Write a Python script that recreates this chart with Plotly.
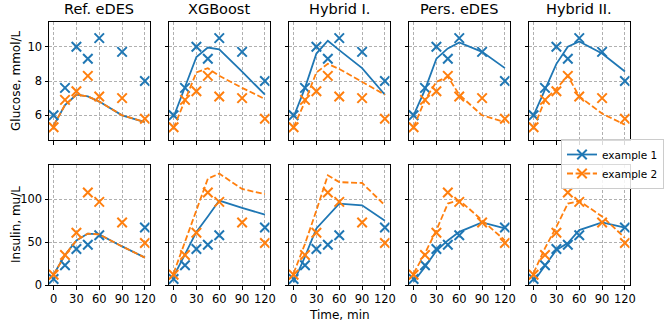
import plotly.graph_objects as go

# ---------------- data ----------------
titles = ["Ref. eDES", "XGBoost", "Hybrid I.", "Pers. eDES", "Hybrid II."]
times = [0, 15, 30, 45, 60, 90, 120]
ins_obs_times_ex1 = [0, 15, 30, 45, 60, 120]

glucose_obs_ex1 = [6.0, 7.6, 10.0, 9.3, 10.5, 9.7, 8.0]
glucose_obs_ex2 = [5.3, 6.9, 7.4, 8.3, 7.1, 7.0, 5.8]
insulin_obs_ex1 = [7, 23, 42, 47, 58, 67]
insulin_obs_ex2 = [12, 35, 61, 108, 97, 73, 49]

glucose_ref_ex1 = [5.4, 6.6, 7.2, 7.1, 6.8, 6.0, 5.6]
glucose_ref_ex2 = [5.4, 6.6, 7.2, 7.1, 6.8, 6.0, 5.6]
glucose_xgb_ex1 = [5.9, 7.6, 9.4, 9.95, 9.85, 8.55, 7.2]
glucose_xgb_ex2 = [5.25, 6.9, 8.5, 8.75, 8.3, 7.6, 6.95]
glucose_hyb1_ex1 = [5.9, 7.6, 9.6, 10.35, 9.8, 8.75, 7.2]
glucose_hyb1_ex2 = [5.3, 6.8, 8.5, 9.0, 8.7, 7.95, 7.2]
glucose_pers_ex1 = [6.0, 7.5, 9.3, 9.9, 10.25, 9.7, 8.75]
glucose_pers_ex2 = [5.3, 6.9, 7.95, 8.25, 7.2, 6.0, 5.6]
glucose_hyb2_ex1 = [6.0, 7.55, 9.0, 10.0, 10.3, 9.6, 8.55]
glucose_hyb2_ex2 = [5.25, 6.9, 7.55, 8.3, 7.1, 6.1, 5.45]

insulin_ref_ex1 = [12, 35, 52, 60, 59, 45, 32]
insulin_ref_ex2 = [12, 35, 52, 60, 59, 45, 32]
insulin_xgb_ex1 = [9.7, 36, 62, 80, 98.5, 90, 82]
insulin_xgb_ex2 = [13.6, 50, 88, 124, 130, 112, 106]
insulin_hyb1_ex1 = [3, 33, 66, 81, 95, 93, 75]
insulin_hyb1_ex2 = [13.6, 48, 87, 128, 120, 119, 93]
insulin_pers_ex1 = [4, 21, 40, 52, 62, 73, 66]
insulin_pers_ex2 = [13.6, 37, 64, 95, 99, 76, 52]
insulin_hyb2_ex1 = [4, 23, 41, 49, 64, 73, 67]
insulin_hyb2_ex2 = [14, 43, 68, 95, 98, 80, 55]

glucose_models = [
    (glucose_ref_ex1, glucose_ref_ex2),
    (glucose_xgb_ex1, glucose_xgb_ex2),
    (glucose_hyb1_ex1, glucose_hyb1_ex2),
    (glucose_pers_ex1, glucose_pers_ex2),
    (glucose_hyb2_ex1, glucose_hyb2_ex2),
]
insulin_models = [
    (insulin_ref_ex1, insulin_ref_ex2),
    (insulin_xgb_ex1, insulin_xgb_ex2),
    (insulin_hyb1_ex1, insulin_hyb1_ex2),
    (insulin_pers_ex1, insulin_pers_ex2),
    (insulin_hyb2_ex1, insulin_hyb2_ex2),
]
xticks = [0, 30, 60, 90, 120]
glucose_ticks = [6, 8, 10]
insulin_ticks = [0, 50, 100]

# ---------------- style ----------------
W, H = 667, 325
BLUE = "#1f77b4"
ORANGE = "#ff7f0e"
FONT = "DejaVu Sans"
LW = 1.8
DASH = "6px,2.6px"
MSIZE = 9.5

fig = go.Figure()

def add_panel(k, obs1_x, obs1, obs2_x, obs2, m1, m2):
    xa = "x" if k == 1 else f"x{k}"
    ya = "y" if k == 1 else f"y{k}"
    fig.add_trace(go.Scatter(x=times, y=m1, mode="lines", xaxis=xa, yaxis=ya,
                             line=dict(color=BLUE, width=LW), showlegend=False))
    fig.add_trace(go.Scatter(x=obs1_x, y=obs1, mode="markers", xaxis=xa, yaxis=ya,
                             marker=dict(symbol="x-thin", size=MSIZE, line=dict(color=BLUE, width=2)),
                             showlegend=False))
    fig.add_trace(go.Scatter(x=times, y=m2, mode="lines", xaxis=xa, yaxis=ya,
                             line=dict(color=ORANGE, width=LW, dash=DASH), showlegend=False))
    fig.add_trace(go.Scatter(x=obs2_x, y=obs2, mode="markers", xaxis=xa, yaxis=ya,
                             marker=dict(symbol="x-thin", size=MSIZE, line=dict(color=ORANGE, width=2)),
                             showlegend=False))

for c in range(5):
    add_panel(c + 1, times, glucose_obs_ex1, times, glucose_obs_ex2, *glucose_models[c])
    add_panel(c + 6, ins_obs_times_ex1, insulin_obs_ex1, times, insulin_obs_ex2, *insulin_models[c])

# legend entries
fig.add_trace(go.Scatter(x=[None], y=[None], mode="lines+markers", name="example 1",
                         line=dict(color=BLUE, width=LW),
                         marker=dict(symbol="x-thin", size=MSIZE, line=dict(color=BLUE, width=2))))
fig.add_trace(go.Scatter(x=[None], y=[None], mode="lines+markers", name="example 2",
                         line=dict(color=ORANGE, width=LW, dash=DASH),
                         marker=dict(symbol="x-thin", size=MSIZE, line=dict(color=ORANGE, width=2))))

layout = dict(
    width=W, height=H,
    margin=dict(l=0, r=0, t=0, b=0, autoexpand=False),
    paper_bgcolor="white", plot_bgcolor="white",
    font=dict(family=FONT, size=11.5, color="black"),
    showlegend=True,
    legend=dict(x=664 / W, y=1 - 164 / H, xanchor="right", yanchor="middle",
                bgcolor="rgba(255,255,255,0.85)", bordercolor="#cccccc", borderwidth=1,
                font=dict(size=10.5), tracegroupgap=0, itemwidth=30),
)

axis_common = dict(
    showline=True, mirror=True, linecolor="black", linewidth=1,
    showgrid=True, gridcolor="#b0b0b0", gridwidth=0.8, griddash="3px,2px",
    ticks="outside", ticklen=3.5, tickwidth=0.9, tickcolor="black",
    zeroline=False, automargin=False,
)

ann = []
for r in range(2):
    for c in range(5):
        k = r * 5 + c + 1
        left = 49 + 120 * c
        right = left + 100.5
        if r == 0:
            ytop, ybot = 22, 140
            yrange = [4.56, 11.44]
            yt = glucose_ticks
        else:
            ytop, ybot = 165, 285
            yrange = [0, 140]
            yt = insulin_ticks
        xname = "xaxis" if k == 1 else f"xaxis{k}"
        yname = "yaxis" if k == 1 else f"yaxis{k}"
        layout[xname] = dict(axis_common, domain=[left / W, right / W], range=[-6, 126],
                             tickvals=xticks, showticklabels=(r == 1),
                             anchor="y" if k == 1 else f"y{k}")
        layout[yname] = dict(axis_common, domain=[1 - ybot / H, 1 - ytop / H], range=yrange,
                             tickvals=yt, showticklabels=(c == 0),
                             anchor="x" if k == 1 else f"x{k}")
        if r == 0:
            ann.append(dict(text=titles[c], x=(left + right) / 2 / W, y=1 - 9 / H,
                            xref="paper", yref="paper", xanchor="center", yanchor="middle",
                            showarrow=False, font=dict(size=14.5)))

ann.append(dict(text="Glucose, mmol/L", x=16 / W, y=1 - 81 / H, xref="paper", yref="paper",
                textangle=-90, showarrow=False, xanchor="center", yanchor="middle",
                font=dict(size=12)))
ann.append(dict(text="Insulin, mu/L", x=16 / W, y=1 - 225 / H, xref="paper", yref="paper",
                textangle=-90, showarrow=False, xanchor="center", yanchor="middle",
                font=dict(size=12)))
ann.append(dict(text="Time, min", x=339 / W, y=1 - 315 / H, xref="paper", yref="paper",
                showarrow=False, xanchor="center", yanchor="middle", font=dict(size=12)))
layout["annotations"] = ann

fig.update_layout(**layout)
fig.write_html("out.html",
               config={"displayModeBar": False},
               post_script="document.body.style.margin='0px';document.body.style.padding='0px';"
                           "document.body.style.overflow='hidden';")
